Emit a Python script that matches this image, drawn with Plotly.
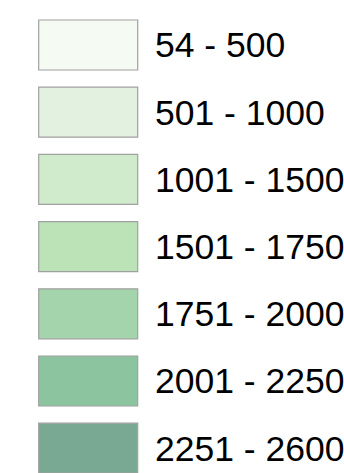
import plotly.graph_objects as go

# Legend classes (lower and upper bounds of each range)
lower_bounds = [54, 501, 1001, 1501, 1751, 2001, 2251]
upper_bounds = [500, 1000, 1500, 1750, 2000, 2250, 2600]
class_colors = ["#f5fbf2", "#e3f2e0", "#d0ebcc", "#bce2b8", "#a3d4ab", "#8dc4a0", "#7aa993"]
swatch_size = [1, 1, 1, 1, 1, 1, 1]

labels = [f"{lo} - {hi}" for lo, hi in zip(lower_bounds, upper_bounds)]
positions = list(range(len(labels)))

fig = go.Figure()
fig.add_trace(go.Bar(
    x=swatch_size,
    y=positions,
    base=0,
    orientation="h",
    width=0.744,
    marker=dict(color=class_colors, line=dict(color="#a0a0a0", width=1.2)),
    hoverinfo="skip",
    showlegend=False,
))

fig.update_layout(
    width=344,
    height=473,
    margin=dict(l=36, r=203, t=0, b=0, pad=0, autoexpand=False),
    paper_bgcolor="white",
    plot_bgcolor="white",
    font=dict(family="Liberation Sans, Arial, sans-serif", size=35.5, color="black"),
    xaxis=dict(range=[-0.0273, 1.0333], visible=False, fixedrange=True, automargin=False),
    yaxis=dict(
        range=[6.369, -0.6696],
        side="right",
        tickvals=positions,
        ticktext=labels,
        showgrid=False,
        zeroline=False,
        showline=False,
        ticks="",
        ticklabelstandoff=13,
        automargin=False,
        fixedrange=True,
    ),
)

fig.write_html(
    "out.html",
    config={"displayModeBar": False},
    post_script="document.body.style.margin='0';document.body.style.padding='0';",
)
